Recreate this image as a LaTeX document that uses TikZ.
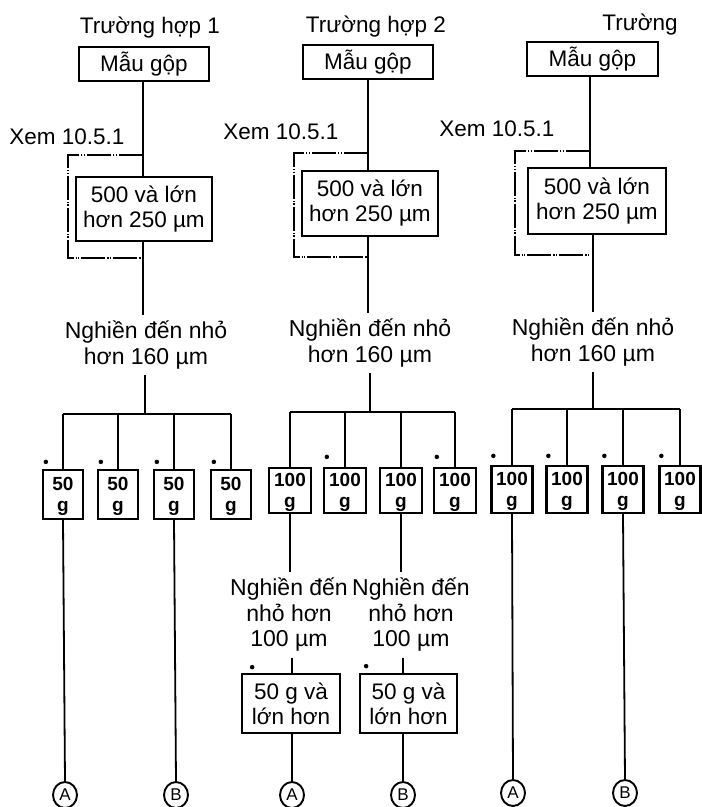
\documentclass[tikz,border=0pt]{standalone}
\usepackage{fontspec}
\setmainfont{Liberation Sans}
\usetikzlibrary{shapes.geometric}
\begin{document}
\begin{tikzpicture}[x=1pt,y=-1pt,line width=1.8pt,
  txt/.style={font=\fontsize{23}{26.5}\selectfont,align=center,inner sep=0pt,outer sep=6pt},
  ttl/.style={font=\fontsize{22.5}{26}\selectfont,inner sep=0pt},
  box/.style={draw,line width=1.7pt,font=\fontsize{22.5}{25}\selectfont,align=center,inner sep=0pt},
  sbox/.style={draw,line width=2.3pt,font=\bfseries\fontsize{19}{21.5}\selectfont,align=center,inner sep=0pt,text depth=0pt},
  circ/.style={draw,ellipse,line width=1.9pt,minimum width=24pt,minimum height=26pt,inner sep=0pt,font=\fontsize{17}{17}\selectfont},
  brk/.style={line width=1.6pt,dash pattern=on 24pt off 2pt on 1.2pt off 1.5pt on 1.2pt off 2pt},
  dot/.style={circle,fill,inner sep=0pt,minimum size=4.5pt}]
\useasboundingbox (0,0) rectangle (702,807);

% ---------- Column 1 ----------
\node[ttl] (t1) at (150,28) {Trường hợp 1};
\node[box,minimum width=130pt,minimum height=34pt] (m1) at (144,64) {Mẫu gộp};
\node[ttl] (x1) at (67,137) {Xem 10.5.1};
\node[box,minimum width=136pt,minimum height=64pt] (s1) at (144,209) {500 và lớn\\hơn 250 µm};
\coordinate (c1a) at (143,155); \coordinate (c1b) at (68,155);
\coordinate (c1c) at (68,258);  \coordinate (c1d) at (143,258);
\draw (c1a |- m1.south) -- (c1a |- s1.north);
\draw[brk] (c1a) -- (c1b) -- (c1c) -- (c1d);
\node[txt] (n1) at (146,345) {Nghiền đến nhỏ\\hơn 160 µm};
\draw (c1a |- s1.south) -- (c1a |- n1.north);
\coordinate (h1) at (145,414);
\draw (n1.south -| h1) -- (h1);
\foreach \i/\x in {1/63,2/118,3/174,4/231}
  \node[sbox,minimum width=40pt,minimum height=49pt] (b1\i) at (\x,494.5) {50\\g};
\draw (b11.north |- h1) -- (b14.north |- h1);
\foreach \i in {1,...,4} {
  \draw (b1\i.north |- h1) -- (b1\i.north);
  \node[dot] at ([shift={(4,-7)}]b1\i.north west) {};
}
\node[circ] (ca1) at (65,795) {A};
\node[circ] (cb1) at (176,795) {B};
\draw (b11.south) -- (ca1.north);
\draw (b13.south) -- (cb1.north);

% ---------- Column 2 ----------
\node[ttl] (t2) at (376,27) {Trường hợp 2};
\node[box,minimum width=130pt,minimum height=34pt] (m2) at (368,62) {Mẫu gộp};
\node[ttl] (x2) at (281,132) {Xem 10.5.1};
\node[box,minimum width=136pt,minimum height=65pt] (s2) at (370,203.5) {500 và lớn\\hơn 250 µm};
\coordinate (c2a) at (368,153); \coordinate (c2b) at (294,153);
\coordinate (c2c) at (294,257); \coordinate (c2d) at (368,257);
\draw (c2a |- m2.south) -- (c2a |- s2.north);
\draw[brk] (c2a) -- (c2b) -- (c2c) -- (c2d);
\node[txt] (n2) at (370,343) {Nghiền đến nhỏ\\hơn 160 µm};
\draw (c2a |- s2.south) -- (c2a |- n2.north);
\coordinate (h2) at (370,412);
\draw (n2.south -| h2) -- (h2);
\foreach \i/\x in {1/290,2/345,3/401,4/455}
  \node[sbox,minimum width=42pt,minimum height=45pt] (b2\i) at (\x,490.5) {100\\g};
\draw (b21.north |- h2) -- (b24.north |- h2);
\foreach \i in {1,...,4}
  \draw (b2\i.north |- h2) -- (b2\i.north);
\node[dot] at ([shift={(4,-10)}]b22.north west) {};
\node[dot] at ([shift={(4,-10)}]b24.north west) {};
\node[txt,font=\fontsize{23}{25.5}\selectfont] (g2a) at (289,615) {Nghiền đến\\nhỏ hơn\\100 µm};
\node[txt,font=\fontsize{23}{25.5}\selectfont] (g2b) at (411,615) {Nghiền đến\\nhỏ hơn\\100 µm};
\draw (b21.south) -- (b21.south |- g2a.north);
\draw (b23.south) -- (b23.south |- g2b.north);
\node[box,minimum width=98pt,minimum height=59pt] (f2a) at (291,703.5) {50 g và\\lớn hơn};
\node[box,minimum width=97pt,minimum height=59pt] (f2b) at (408.5,703.5) {50 g và\\lớn hơn};
\node[dot] at ([shift={(11,-6)}]f2a.north west) {};
\node[dot] at ([shift={(7,-7)}]f2b.north west) {};
\node[circ] (ca2) at (292,795) {A};
\node[circ] (cb2) at (403,795) {B};
\draw (ca2.north |- g2a.south) -- (ca2.north |- f2a.north);
\draw (cb2.north |- g2b.south) -- (cb2.north |- f2b.north);
\draw (ca2.north |- f2a.south) -- (ca2.north);
\draw (cb2.north |- f2b.south) -- (cb2.north);

% ---------- Column 3 ----------
\node[ttl] (t3) at (640,25) {Trường};
\node[box,minimum width=131pt,minimum height=34pt] (m3) at (592.5,59) {Mẫu gộp};
\node[ttl] (x3) at (497,129) {Xem 10.5.1};
\node[box,minimum width=138pt,minimum height=66pt] (s3) at (597,201) {500 và lớn\\hơn 250 µm};
\coordinate (c3a) at (590,151); \coordinate (c3b) at (515,151);
\coordinate (c3c) at (515,255); \coordinate (c3d) at (590,255);
\draw (c3a |- m3.south) -- (c3a |- s3.north);
\draw[brk] (c3a) -- (c3b) -- (c3c) -- (c3d);
\node[txt] (n3) at (593,342) {Nghiền đến nhỏ\\hơn 160 µm};
\coordinate (h3) at (593,409);
\draw (h3 |- s3.south) -- (h3 |- n3.north);
\draw (n3.south -| h3) -- (h3);
\foreach \i/\x in {1/512,2/567,3/623,4/680}
  \node[sbox,minimum width=41pt,minimum height=47pt] (b3\i) at (\x,489.5) {100\\g};
\draw (b31.north |- h3) -- (b34.north |- h3);
\foreach \i in {1,...,4} {
  \draw (b3\i.north |- h3) -- (b3\i.north);
  \node[dot] at ([shift={(3,-9)}]b3\i.north west) {};
}
\node[circ] (ca3) at (513,793) {A};
\node[circ] (cb3) at (625,793) {B};
\draw (b31.south) -- (ca3.north);
\draw (b33.south) -- (cb3.north);
\end{tikzpicture}
\end{document}
